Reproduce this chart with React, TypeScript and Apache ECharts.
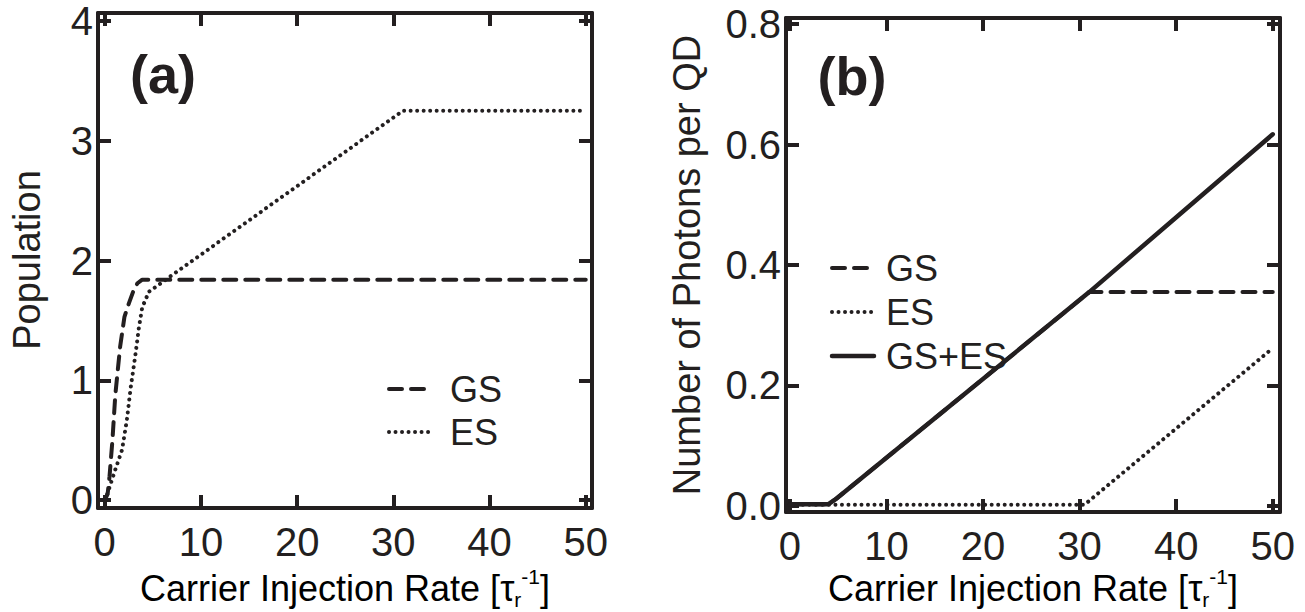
import React, { useEffect, useRef } from 'react';
import * as echarts from 'echarts';

const xTicks = [0, 10, 20, 30, 40, 50];
const popTicks = [0, 1, 2, 3, 4];
const photonTicks = [0, 0.2, 0.4, 0.6, 0.8];

// Panel (a): population
const popGS: [number, number][] = [
  [0, 0], [0.3, 0.05], [0.5, 0.2], [0.8, 0.5], [1.1, 0.88], [1.6, 1.28],
  [2.05, 1.53], [2.5, 1.64], [3.0, 1.75], [3.4, 1.81], [3.9, 1.84], [50, 1.84],
];
const popES: [number, number][] = [
  [0, 0], [0.3, 0.06], [0.95, 0.22], [1.8, 0.42], [2.3, 0.67], [2.7, 0.94],
  [3.2, 1.22], [3.55, 1.44], [3.9, 1.61], [4.6, 1.74], [31, 3.25], [50, 3.25],
];

// Panel (b): photons per QD
const phGS: [number, number][] = [[0, 0.003], [4, 0.003], [4.8, 0.012], [31, 0.355], [50, 0.355]];
const phES: [number, number][] = [[0, 0.002], [30.5, 0.002], [50, 0.262]];
const phTotal: [number, number][] = [[0, 0.003], [4, 0.003], [4.8, 0.012], [31, 0.355], [50, 0.617]];

const INK = '#231f20';
const FONT = '"Liberation Sans", Arial, Helvetica, sans-serif';
const FS = 36;
const TICK_FS = 40;

const DASH = [13, 9];
const DOT = [0.01, 6.5];

function xAxes(gridIndex: number, min: number, max: number) {
  const common = {
    gridIndex, type: 'value' as const, min, max,
    axisLine: { show: true, onZero: false, lineStyle: { color: INK, width: 4 } },
    axisTick: { show: true, inside: true, length: 13, lineStyle: { color: INK, width: 4 }, customValues: xTicks },
    splitLine: { show: false },
  };
  return [
    { ...common, position: 'bottom',
      axisLabel: { show: true, customValues: xTicks, margin: 14, color: INK, fontSize: TICK_FS, fontFamily: FONT } },
    { ...common, position: 'top', axisLabel: { show: false } },
  ];
}

function yAxes(gridIndex: number, min: number, max: number, ticks: number[], fmt: (v: number) => string) {
  const common = {
    gridIndex, type: 'value' as const, min, max,
    axisLine: { show: true, onZero: false, lineStyle: { color: INK, width: 4 } },
    axisTick: { show: true, inside: true, length: 13, lineStyle: { color: INK, width: 4 }, customValues: ticks },
    splitLine: { show: false },
  };
  return [
    { ...common, position: 'left',
      axisLabel: { show: true, customValues: ticks, margin: 5, color: INK, fontSize: TICK_FS, fontFamily: FONT, formatter: fmt } },
    { ...common, position: 'right', axisLabel: { show: false } },
  ];
}

function line(name: string, xi: number, yi: number, data: [number, number][], type: any, width: number, z: number) {
  return {
    name, type: 'line', xAxisIndex: xi, yAxisIndex: yi, data,
    showSymbol: false, symbol: 'none', z,
    lineStyle: { color: INK, width, type, cap: 'round', join: 'round' },
  };
}

const richTitle = {
  m: { fontSize: FS, fontFamily: FONT, color: INK, lineHeight: 44, verticalAlign: 'middle' },
  sub: { fontSize: 21, fontFamily: FONT, color: INK, lineHeight: 20, verticalAlign: 'bottom' },
  sup: { fontSize: 21, fontFamily: FONT, color: INK, lineHeight: 32, verticalAlign: 'top' },
};

function xTitle(cx: number, cy: number) {
  return {
    type: 'text', x: cx, y: cy, z: 10,
    style: {
      text: '{m|Carrier Injection Rate [τ}{sub|r}{sup|-1}{m|]}',
      rich: richTitle, align: 'center', verticalAlign: 'middle',
    },
  };
}

function yTitle(cx: number, cy: number, text: string) {
  return {
    type: 'text', x: cx, y: cy, rotation: Math.PI / 2, z: 10,
    style: { text, fontSize: 38, fontFamily: FONT, fill: INK, align: 'center', verticalAlign: 'middle' },
  };
}

function legendRow(x0: number, x1: number, y: number, dash: any, width: number, label: string, tx: number) {
  return [
    { type: 'line', z: 10, shape: { x1: x0, y1: y, x2: x1, y2: y },
      style: { stroke: INK, lineWidth: width, lineDash: dash, lineCap: 'round' } },
    { type: 'text', z: 10, x: tx, y,
      style: { text: label, fontSize: FS, fontFamily: FONT, fill: INK, align: 'left', verticalAlign: 'middle' } },
  ];
}

export default function App() {
  const ref = useRef<HTMLDivElement>(null);
  useEffect(() => {
    if (!ref.current) return;
    const chart = echarts.init(ref.current, null, { renderer: 'svg' });
    const option: any = {
      animation: false,
      backgroundColor: '#ffffff',
      grid: [
        { left: 98, top: 13, width: 494, height: 495 },
        { left: 786, top: 18, width: 494, height: 494 },
      ],
      xAxis: [...xAxes(0, -0.7, 50.65), ...xAxes(1, -0.4, 50.75)],
      yAxis: [
        ...yAxes(0, -0.065, 4.065, popTicks, (v: number) => String(v)),
        ...yAxes(1, -0.01, 0.81, photonTicks, (v: number) => v.toFixed(1)),
      ],
      series: [
        line('GS', 0, 0, popGS, DASH, 4, 3),
        line('ES', 0, 0, popES, DOT, 4, 3),
        line('GS+ES', 2, 2, phTotal, 'solid', 4.5, 2),
        line('GS', 2, 2, phGS, DASH, 4, 3),
        line('ES', 2, 2, phES, DOT, 4, 3),
      ],
      graphic: [
        { type: 'text', x: 163, y: 74, z: 10,
          style: { text: '(a)', fontSize: 54, fontWeight: 'bold', fontFamily: FONT, fill: INK, align: 'center', verticalAlign: 'middle' } },
        { type: 'text', x: 852, y: 76, z: 10,
          style: { text: '(b)', fontSize: 54, fontWeight: 'bold', fontFamily: FONT, fill: INK, align: 'center', verticalAlign: 'middle' } },
        xTitle(345, 588),
        xTitle(1033, 588),
        yTitle(27, 260, 'Population'),
        yTitle(687, 265, 'Number of Photons per QD'),
        ...legendRow(389, 430, 389, DASH, 4, 'GS', 450),
        ...legendRow(389, 432, 432, DOT, 4, 'ES', 450),
        ...legendRow(832, 872, 268, DASH, 4, 'GS', 886),
        ...legendRow(832, 874, 312, DOT, 4, 'ES', 886),
        ...legendRow(832, 874, 356, 'solid', 4.5, 'GS+ES', 886),
      ],
    };
    chart.setOption(option);
    return () => chart.dispose();
  }, []);
  return (
    <div ref={ref} style={{ position: 'fixed', left: 0, top: 0, width: 1305, height: 612, background: '#fff' }} />
  );
}
